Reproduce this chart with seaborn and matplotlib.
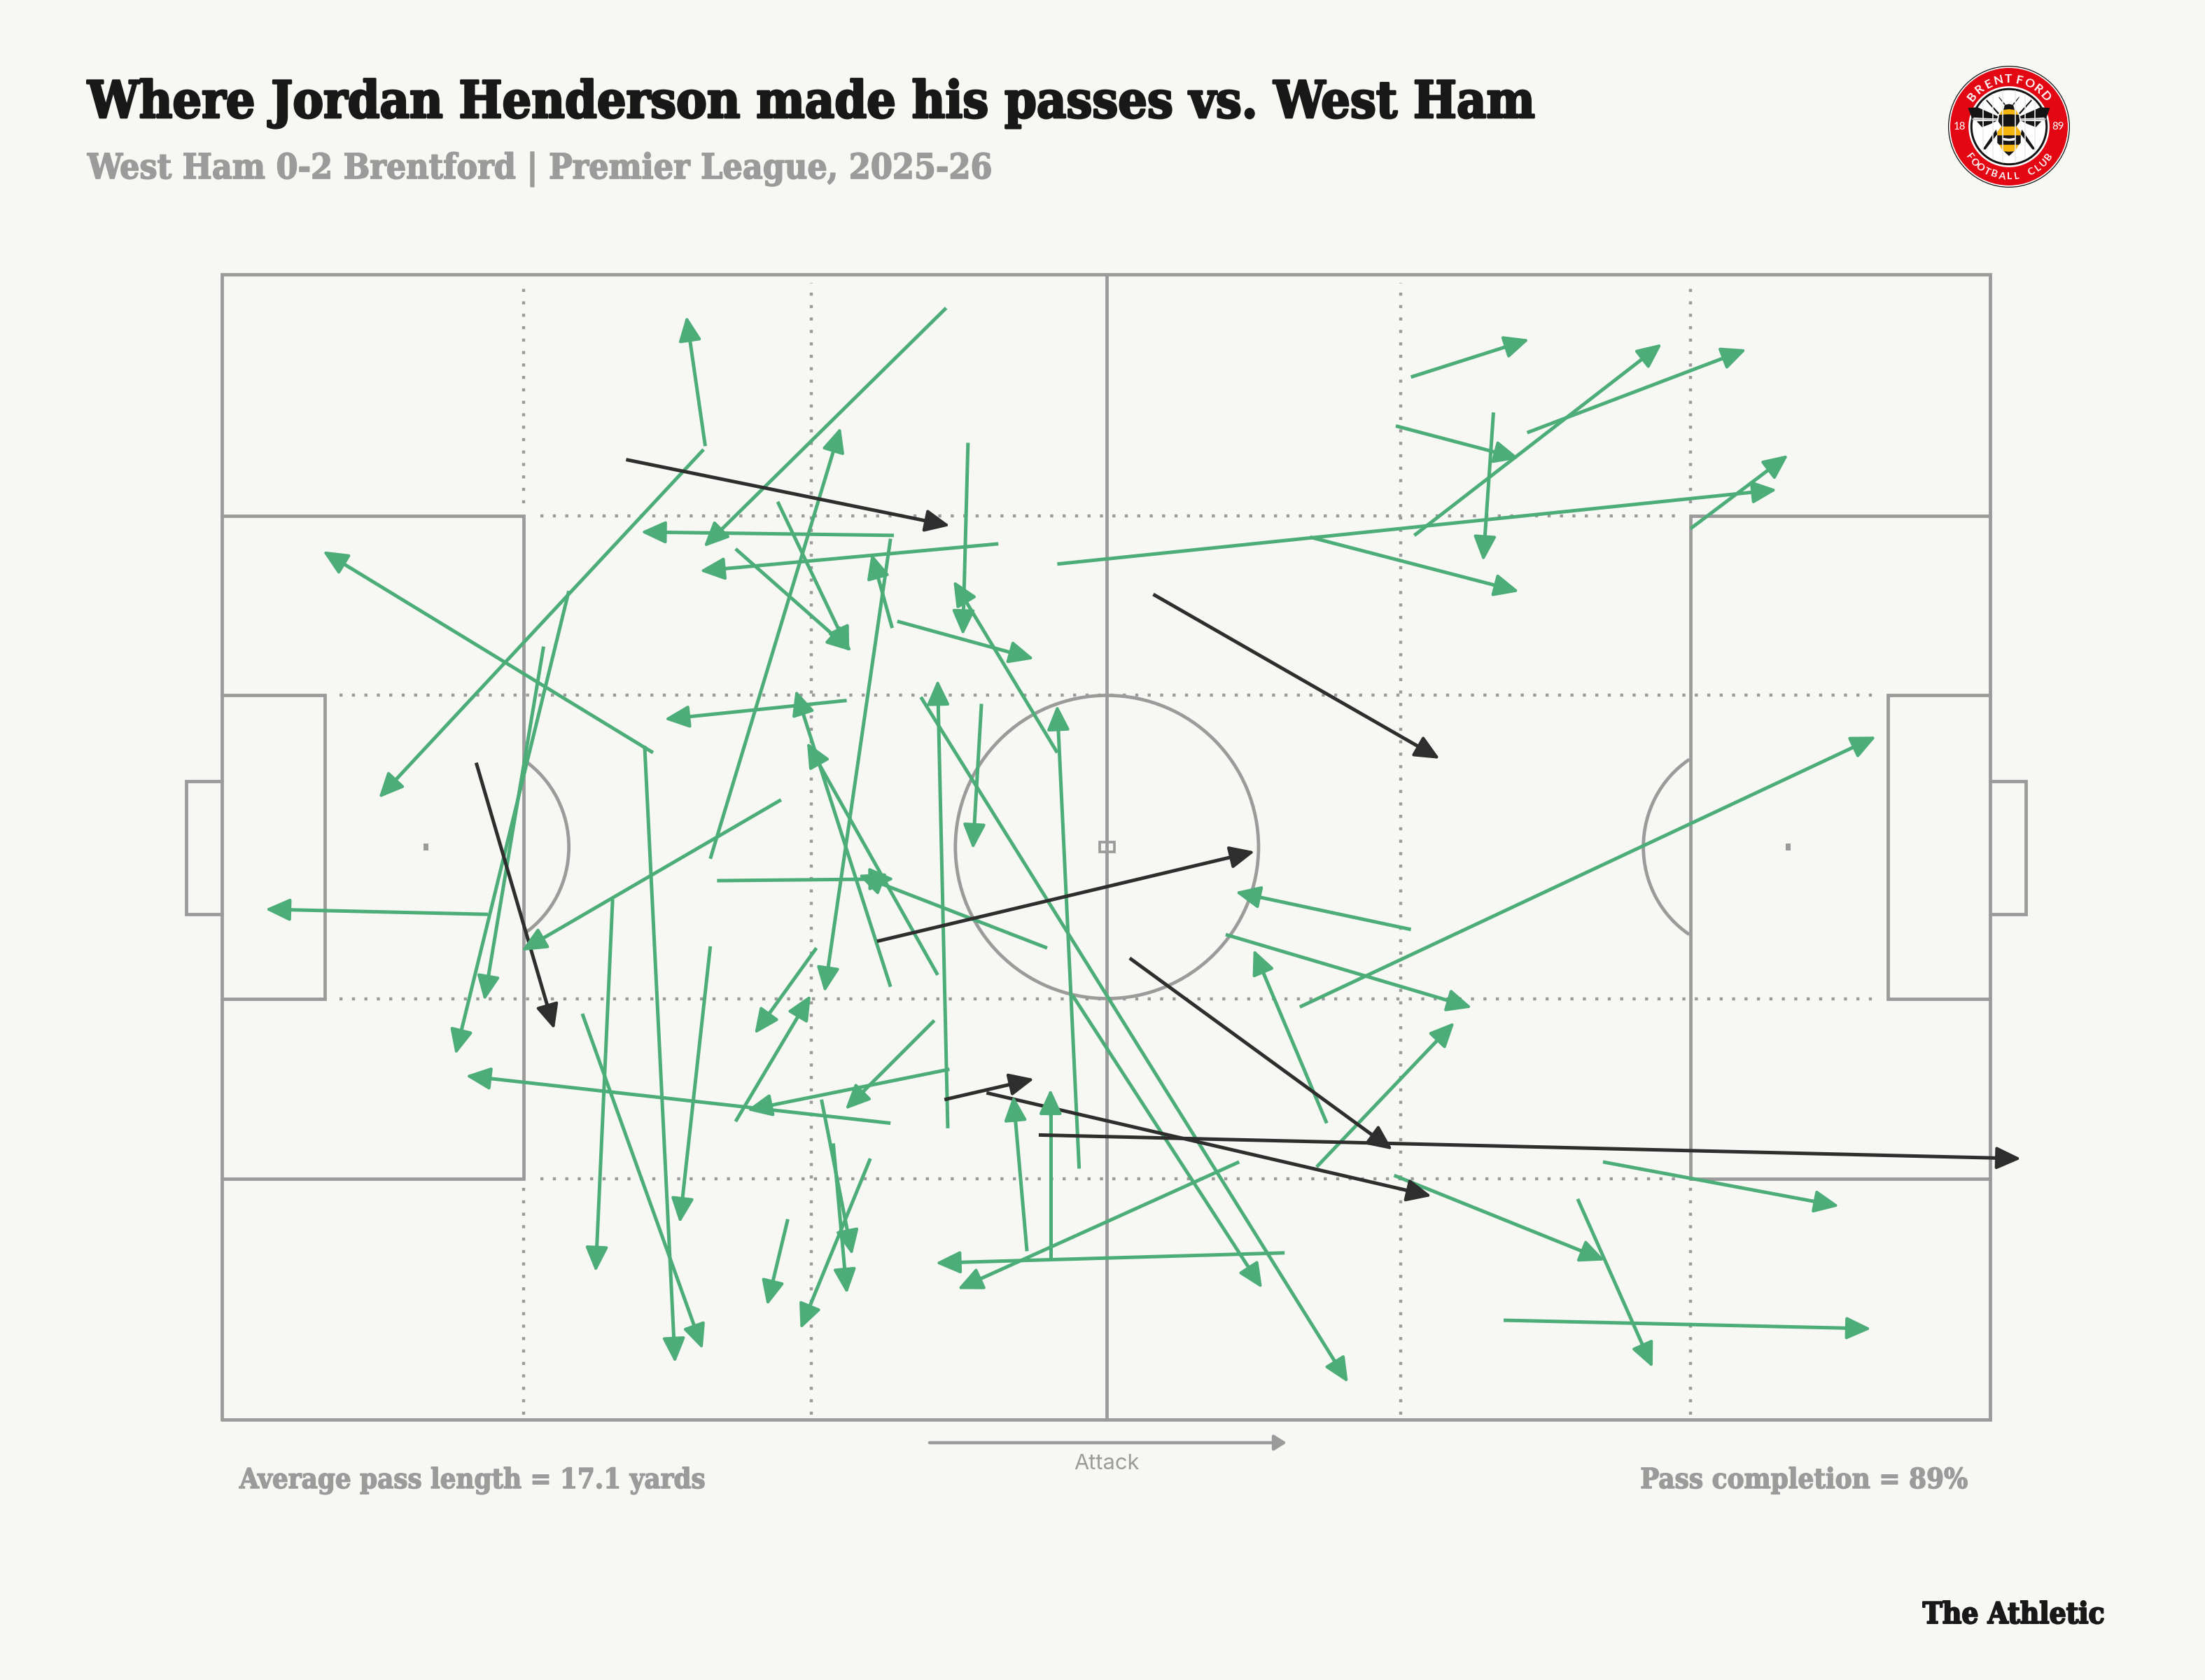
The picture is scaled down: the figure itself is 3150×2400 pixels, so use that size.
import numpy as np
import pandas as pd
import seaborn as sns
from matplotlib import patheffects as pe
from matplotlib import pyplot as plt
from matplotlib.patches import Arc, Circle, Polygon, Rectangle

# passes in metres on a 105 x 68 pitch, attack left to right
comp_x0 = [28.7,28.6,43.0,25.6,20.6,19.1,15.8,33.2,25.1,23.2,21.4,29.0,29.0,39.9,46.1,30.5,33.0,39.7,39.8,40.1,44.3,49.6,37.1,39.7,42.5,45.1,43.1,41.5,50.9,29.4,49.0,35.3,30.5,42.3,43.2,39.7,35.6,36.3,38.5,33.6,47.8,49.2,63.1,60.4,50.5,70.6,70.8,77.5,69.7,75.5,49.6,64.6,87.2,64.0,70.6,59.6,65.6,65.0,69.6,80.5,82.0,76.1]
comp_y0 = [57.8,57.6,66.0,39.6,49.2,45.9,30.0,36.8,40.0,30.9,24.1,28.1,33.3,52.5,52.0,51.7,54.5,52.3,47.0,47.4,58.0,39.6,42.7,25.7,26.4,42.5,17.3,42.9,14.9,32.0,28.0,28.0,17.7,23.7,20.8,17.6,19.0,16.4,15.5,11.9,10.0,9.5,9.9,15.3,25.2,61.9,52.5,58.6,59.0,59.8,50.8,52.4,52.9,24.5,29.1,28.8,17.6,15.0,14.5,13.1,15.3,5.9]
comp_x1 = [27.6,9.4,28.7,6.1,13.9,15.6,2.7,17.9,26.9,22.2,28.5,27.2,36.7,25.0,28.5,37.3,37.2,35.8,38.6,48.1,44.0,43.5,26.4,34.1,34.8,44.6,42.5,66.8,49.6,39.8,37.9,31.7,34.9,37.1,31.3,14.6,37.4,37.1,34.4,32.4,47.0,49.2,42.5,43.8,61.7,77.5,85.4,90.4,76.9,74.9,92.2,76.9,92.9,98.1,60.3,74.1,61.3,73.1,82.0,84.9,95.9,97.8]
comp_y1 = [65.4,37.0,51.9,51.5,21.8,25.0,30.3,27.9,3.5,8.9,4.3,11.8,58.8,52.7,50.4,45.7,45.7,25.5,51.3,45.2,46.7,49.7,41.6,43.2,40.1,34.0,43.8,2.3,42.3,32.1,32.3,23.0,25.1,18.5,18.4,20.4,9.9,7.6,5.5,6.9,19.1,19.5,9.3,7.8,7.9,64.1,63.8,63.5,57.1,51.1,55.2,49.2,57.2,40.5,31.3,24.5,27.8,23.5,9.5,3.2,12.7,5.4]

miss_x0 = [24.0,55.3,15.1,38.9,53.9,42.9,45.4,48.5]
miss_y0 = [57.0,49.0,39.0,28.4,27.4,19.0,19.4,16.9]
miss_x1 = [43.1,72.2,19.7,61.2,69.4,48.1,71.7,106.7]
miss_y1 = [53.1,39.3,23.3,33.7,16.1,20.2,13.3,15.5]

title = "Where Jordan Henderson made his passes vs. West Ham"
subtitle = "West Ham 0-2 Brentford | Premier League, 2025-26"
note_left = "Average pass length = 17.1 yards"
note_right = "Pass completion = 89%"

BG = "#f7f8f4"
LINE = "#9b9b9b"
GREEN = "#4cad78"
DARK = "#2e2e2e"
INK = "#181818"
W, H = 3150, 2400
SCALE = 24.06  # px per metre


def fx(px):
    return px / W


def fy(py):
    return 1 - py / H


def passes_frame():
    a = pd.DataFrame({"x0": comp_x0, "y0": comp_y0, "x1": comp_x1, "y1": comp_y1})
    a["status"] = "complete"
    b = pd.DataFrame({"x0": miss_x0, "y0": miss_y0, "x1": miss_x1, "y1": miss_y1})
    b["status"] = "missed"
    df = pd.concat([a, b], ignore_index=True)
    df["id"] = df.index
    length = np.hypot(df.x1 - df.x0, df.y1 - df.y0)
    df["ux"] = (df.x1 - df.x0) / length
    df["uy"] = (df.y1 - df.y0) / length
    return df


def draw_pitch(ax):
    solid = dict(color=LINE, lw=1.15, solid_joinstyle="miter", zorder=1)
    dot = dict(color=LINE, lw=1.05, ls=(0, (1, 3.06)), zorder=1)
    ax.plot([0, 105, 105, 0, 0], [0, 0, 68, 68, 0], **solid)
    ax.plot([52.55, 52.55], [0, 68], **solid)
    for s, x_box, x_six, x_goal in [(0, 17.9, 6.1, -2.1), (105, 87.2, 98.9, 107.1)]:
        ax.plot([s, x_box, x_box, s], [53.65, 53.65, 14.3, 14.3], **solid)
        ax.plot([s, x_six, x_six, s], [43, 43, 25, 25], **solid)
        ax.plot([s, x_goal, x_goal, s], [37.9, 37.9, 30, 30], **solid)
    ax.add_patch(Arc((52.55, 34), 18, 18, color=LINE, lw=1.15, zorder=1))
    ax.add_patch(Arc((14.6, 34), 12, 12.4, theta1=-56.6, theta2=56.6, color=LINE, lw=1.15, zorder=1))
    ax.add_patch(Arc((90.4, 34), 12, 12.4, theta1=122.2, theta2=237.8, color=LINE, lw=1.15, zorder=1))
    ax.add_patch(Rectangle((52.1, 33.7), 0.9, 0.6, fc="none", ec=LINE, lw=0.9, zorder=1))
    for x in [12.1, 93.0]:
        ax.add_patch(Rectangle((x - 0.15, 33.8), 0.3, 0.4, fc=LINE, ec="none", zorder=1))
    for x in [35.0, 70.0]:
        ax.plot([x, x], [0.3, 67.5], **dot)
    for x in [17.9, 87.2]:
        ax.plot([x, x], [54.4, 67.5], **dot)
        ax.plot([x, x], [0.3, 14.0], **dot)
    for y in [53.65, 14.3]:
        ax.plot([18.9, 86.7], [y, y], **dot)
    for y in [43, 25]:
        ax.plot([7.0, 98.4], [y, y], **dot)


def draw_passes(ax, df):
    # shafts stop just behind the tip so the head stays pointed
    long = pd.concat([
        df.assign(x=df.x0, y=df.y0),
        df.assign(x=df.x1 - 0.6 * df.ux, y=df.y1 - 0.6 * df.uy),
    ]).sort_values("id", kind="stable")
    sns.lineplot(data=long, x="x", y="y", hue="status", units="id", estimator=None, sort=False,
                 palette={"complete": GREEN, "missed": DARK}, lw=1.2, legend=False, ax=ax,
                 zorder=3, solid_capstyle="butt")
    for r in df.itertuples():
        c = GREEN if r.status == "complete" else DARK
        ax.annotate("", xy=(r.x1 + 0.12 * r.ux, r.y1 + 0.12 * r.uy),
                    xytext=(r.x1 - 1.5 * r.ux, r.y1 - 1.5 * r.uy),
                    arrowprops=dict(arrowstyle="-|>,head_length=7.2,head_width=3.3", mutation_scale=1,
                                    shrinkA=0, shrinkB=0, lw=1.0, color=c, joinstyle="round"),
                    zorder=4)


def p(dx, dy):
    # logo sketch points were read in a 260-per-radius grid around (390, 333)
    return (dx - 390) / 260, (333 - dy) / 260


def both(ax, pts, **kw):
    ax.add_patch(Polygon([p(*q) for q in pts], closed=True, lw=0, **kw))
    ax.add_patch(Polygon([p(780 - q[0], q[1]) for q in pts], closed=True, lw=0, **kw))


def draw_logo(fig):
    R = 87
    ax = fig.add_axes([fx(2870 - 92), fy(181 + 92), 184 / W, 184 / H])
    ax.set_xlim(-92 / R, 92 / R)
    ax.set_ylim(-92 / R, 92 / R)
    ax.set_axis_off()
    red = "#e30613"
    black = "#141414"
    yellow = "#f5b50f"
    for r, c in [(1.0, black), (0.985, "white"), (0.965, red), (0.665, "white"), (0.635, black), (0.60, "white")]:
        ax.add_patch(Circle((0, 0), r, fc=c, ec="none"))
    for x in [-0.42, -0.26, -0.1, 0.1, 0.26, 0.42]:
        h = np.sqrt(0.59 ** 2 - x ** 2)
        ax.plot([x, x], [-h, h], color="#ececec", lw=0.4)
    for ch, a in zip("BRENTFORD", np.linspace(141, 40, 9)):
        t = np.radians(a)
        ax.text(0.78 * np.cos(t), 0.78 * np.sin(t), ch, rotation=a - 90, color="white", fontsize=4.2,
                fontweight="bold", ha="center", va="center", family="Lato")
    for ch, a in zip("FOOTBALL CLUB", np.linspace(217, 323, 13)):
        t = np.radians(a)
        ax.text(0.82 * np.cos(t), 0.82 * np.sin(t), ch, rotation=a + 90, color="white", fontsize=3.4,
                fontweight="bold", ha="center", va="center", family="Lato")
    ax.text(-0.81, 0, "18", color="white", fontsize=3.6, ha="center", va="center", family="Lato")
    ax.text(0.81, 0, "89", color="white", fontsize=3.6, ha="center", va="center", family="Lato")
    # wings
    both(ax, [(438, 288), (525, 250), (565, 253), (550, 293), (500, 296), (440, 298)], fc=black)
    both(ax, [(440, 300), (550, 298), (545, 305), (440, 305)], fc="#bbbbbb")
    both(ax, [(442, 308), (528, 310), (505, 335), (470, 322)], fc=black)
    # legs and antennae
    both(ax, [(432, 275), (485, 217), (488, 222), (437, 280)], fc=black)
    both(ax, [(445, 345), (503, 430), (490, 430), (440, 365)], fc=black)
    both(ax, [(405, 238), (432, 206), (434, 208), (410, 240)], fc=black)
    # body
    both(ax, [(390, 236), (408, 240), (414, 262), (390, 268)], fc=black)
    both(ax, [(390, 258), (420, 262), (432, 285), (390, 290)], fc=yellow)
    both(ax, [(390, 280), (432, 282), (436, 310), (420, 335), (390, 338)], fc=black)
    both(ax, [(390, 332), (422, 332), (440, 355), (440, 372), (390, 372)], fc=yellow)
    both(ax, [(390, 370), (440, 370), (440, 402), (430, 412), (390, 412)], fc=black)
    both(ax, [(390, 384), (420, 380), (412, 392), (390, 394)], fc="white")
    both(ax, [(390, 410), (431, 410), (418, 435), (390, 445)], fc=yellow)
    both(ax, [(390, 440), (412, 438), (390, 458)], fc=black)


def heavy(txt, c, w):
    # the slab face here is lighter than the original one
    txt.set_path_effects([pe.withStroke(linewidth=w, foreground=c)])


sns.set_theme(style="white", rc={"figure.facecolor": BG, "axes.facecolor": BG, "savefig.facecolor": BG})

fig = plt.figure(figsize=(W / 300, H / 300), dpi=300)
ax = fig.add_axes([0, 0, 1, 1])
draw_pitch(ax)
draw_passes(ax, passes_frame())
ax.set_xlim(-317 / SCALE, (W - 317) / SCALE)
ax.set_ylim(-(H - 2028) / SCALE, 2028 / SCALE)
ax.set_axis_off()

slab = dict(family="DejaVu Serif", fontweight="bold", fontstretch="condensed", va="baseline")
heavy(fig.text(fx(125), fy(168), title, fontsize=17.5, color=INK, **slab), INK, 0.7)
heavy(fig.text(fx(125), fy(255), subtitle, fontsize=11.9, color=LINE, **slab), LINE, 0.4)
heavy(fig.text(fx(342), fy(2126), note_left, fontsize=9.55, color=LINE, **slab), LINE, 0.35)
heavy(fig.text(fx(2811), fy(2126), note_right, fontsize=9.6, color=LINE, ha="right", **slab), LINE, 0.35)
heavy(fig.text(fx(3006), fy(2319), "The Athletic", fontsize=10.1, color=INK, ha="right", **slab), INK, 0.5)

fig.text(fx(1581), fy(2099), "Attack", fontsize=7.4, color=LINE, ha="center", va="baseline", family="Inter")
ax.annotate("", xy=(fx(1838), fy(2061)), xytext=(fx(1328), fy(2061)),
            xycoords="figure fraction", textcoords="figure fraction",
            arrowprops=dict(arrowstyle="-|>,head_length=3.5,head_width=2.2", mutation_scale=1,
                            shrinkA=0, shrinkB=0, lw=1.1, color=LINE))

draw_logo(fig)
fig.savefig("out.png", dpi=300, facecolor=BG)
